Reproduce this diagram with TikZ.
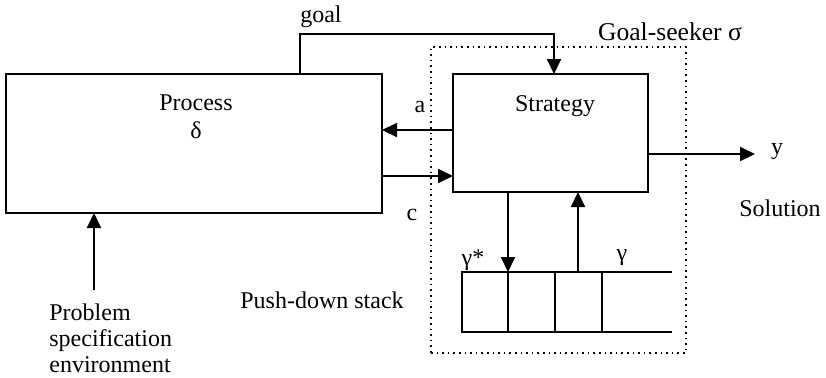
\documentclass[tikz,border=0pt]{standalone}
\usepackage{fontspec}
\setmainfont{Liberation Serif}
\usetikzlibrary{arrows.meta}
\begin{document}
\begin{tikzpicture}[x=0.5pt,y=-0.5pt,
  box/.style={draw,line width=1pt,inner sep=0pt},
  conn/.style={line width=1pt},
  arr/.style={conn,-{Triangle[length=7.5pt,width=7pt]}},
  lbl/.style={inner sep=0pt,font=\fontsize{12}{13}\selectfont},
  dotbox/.style={draw,dotted,line width=0.8pt,inner sep=0pt}]
\useasboundingbox (0,0) rectangle (826,377);
% boxes
\node[box,minimum width=188pt,minimum height=69.5pt] (proc) at (194,143.5) {};
\node[box,minimum width=97.5pt,minimum height=59pt] (strat) at (550.5,133) {};
\node[dotbox,minimum width=127.5pt,minimum height=153pt] (gs) at (558.5,200) {};
% coordinates
\coordinate (g1) at (300,74);
\coordinate (g2) at (300,34);
\coordinate (g3) at (554,34);
\coordinate (g4) at (554,74);
\coordinate (ao) at (453,130);
\coordinate (ai) at (382,130);
\coordinate (co) at (382,176);
\coordinate (ci) at (453,176);
\coordinate (yo) at (648,154);
\coordinate (ye) at (755,154);
\coordinate (ps) at (94,290);
\coordinate (pe) at (94,213);
% stack
\coordinate (s0t) at (462,272); \coordinate (s0b) at (462,332);
\coordinate (s1t) at (508,272); \coordinate (s1b) at (508,332);
\coordinate (s2t) at (555,272); \coordinate (s2b) at (555,332);
\coordinate (s3t) at (602,272); \coordinate (s3b) at (602,332);
\coordinate (s4t) at (672,272); \coordinate (s4b) at (672,332);
\coordinate (d1) at (508,192);
\coordinate (u1) at (578,192);
\coordinate (u0) at (578,272);
\draw[conn] (s4t) -- (s0t) -- (s0b) -- (s4b);
\draw[conn] (s2t) -- (s2b);
\draw[conn] (s3t) -- (s3b);
\draw[conn] (s1t) -- (s1b);
% connectors
\draw[arr] (g1) -- (g2) -- (g3) -- (g4);
\draw[arr] (ao) -- (ai);
\draw[arr] (co) -- (ci);
\draw[arr] (yo) -- (ye);
\draw[arr] (ps) -- (pe);
\draw[arr] (d1) -- (s1t);
\draw[arr] (u0) -- (u1);
% labels
\node[lbl] (tgoal) at (321,17) {goal};
\node[lbl,font=\fontsize{12.8}{14}\selectfont] (tgs) at (670,32) {Goal-seeker σ};
\node[lbl] (tproc) at (196,103) {Process};
\node[lbl] (tdel) at (196,130) {δ};
\node[lbl] (tstrat) at (555,106) {Strategy};
\node[lbl] (ta) at (420,107) {a};
\node[lbl] (tc) at (412,215) {c};
\node[lbl] (ty) at (777,152) {y};
\node[lbl] (tsol) at (780,208) {Solution};
\node[lbl] (tgs1) at (473,260) {γ*};
\node[lbl] (tg) at (622,258) {γ};
\node[lbl] (tpds) at (322,300) {Push-down stack};
\node[lbl,align=left,anchor=north west] (tprob) at (49,303) {Problem\\specification\\environment};
\end{tikzpicture}
\end{document}
